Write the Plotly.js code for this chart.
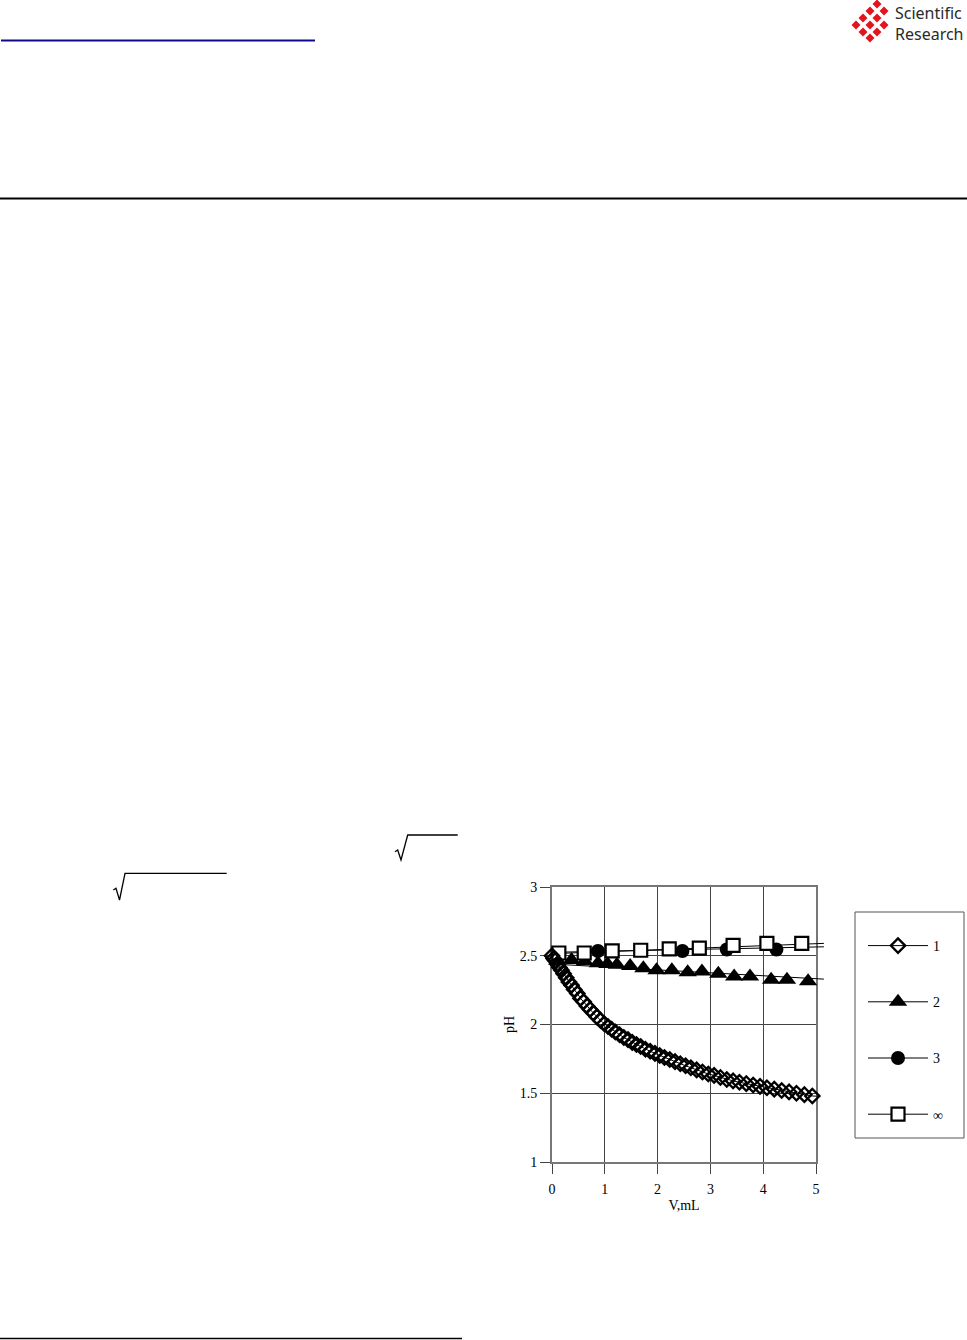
<!DOCTYPE html>
<html><head><meta charset="utf-8">
<script src="https://cdn.plot.ly/plotly-3.0.1.min.js"></script>
<style>html,body{margin:0;padding:0;background:#fff;}#chart{width:967px;height:1340px;}</style>
</head><body><div id="chart"></div>
<script>
// ---------- data ----------
const xTicks = [0, 1, 2, 3, 4, 5];
const xTickLabels = ['0', '1', '2', '3', '4', '5'];
const yTicks = [1, 1.5, 2, 2.5, 3];
const yTickLabels = ['1', '1.5', '2', '2.5', '3'];
const seriesNames = ['1', '2', '3', '\u221E'];

const s1X = [0, 0.03, 0.06, 0.1, 0.14, 0.18, 0.22, 0.27, 0.32, 0.37, 0.42, 0.48, 0.54, 0.6, 0.66, 0.72, 0.78, 0.85, 0.92, 0.99,
  1.06, 1.13, 1.2, 1.28, 1.36, 1.44, 1.52, 1.6, 1.68, 1.77, 1.86, 1.95, 2.04, 2.13, 2.23, 2.33, 2.43, 2.53, 2.63, 2.74,
  2.85, 2.96, 3.07, 3.19, 3.31, 3.43, 3.55, 3.68, 3.81, 3.94, 4.07, 4.21, 4.35, 4.49, 4.63, 4.78, 4.93];
const s1Y = [2.5, 2.48, 2.465, 2.44, 2.415, 2.395, 2.37, 2.34, 2.31, 2.285, 2.255, 2.225, 2.19, 2.165, 2.135, 2.11, 2.085, 2.055, 2.03, 2.005,
  1.985, 1.965, 1.945, 1.925, 1.905, 1.89, 1.87, 1.855, 1.84, 1.82, 1.805, 1.79, 1.775, 1.76, 1.745, 1.73, 1.715, 1.7, 1.685, 1.67,
  1.655, 1.64, 1.63, 1.615, 1.6, 1.59, 1.58, 1.57, 1.56, 1.55, 1.54, 1.53, 1.52, 1.51, 1.5, 1.49, 1.48];

const s2X = [0.1, 0.37, 0.62, 0.87, 1.05, 1.23, 1.48, 1.73, 1.98, 2.27, 2.57, 2.84, 3.15, 3.45, 3.75, 4.15, 4.45, 4.85];
const s2Y = [2.465, 2.47, 2.46, 2.445, 2.44, 2.435, 2.425, 2.41, 2.395, 2.395, 2.38, 2.385, 2.37, 2.35, 2.35, 2.325, 2.325, 2.315];

const s3X = [0.87, 2.47, 3.31, 4.25];
const s3Y = [2.535, 2.535, 2.545, 2.545];

const s4X = [0.13, 0.61, 1.14, 1.68, 2.22, 2.79, 3.43, 4.07, 4.73];
const s4Y = [2.52, 2.52, 2.535, 2.54, 2.55, 2.555, 2.575, 2.59, 2.59];

// fitted lines (they run a little past the frame)
const lineEndX = [0, 5.15];
const line2Y = [2.44, 2.33];
const line3Y = [2.525, 2.565];
const line4Y = [2.515, 2.59];
const line1TailX = [5.08];
const line1TailY = [1.478];

// ---------- geometry ----------
const W = 967, H = 1340;
const fx = p => p / W;
const fy = p => 1 - p / H;
const plotL = 552, plotR = 816, plotT = 887, plotB = 1162;
const xMax = 5, xMaxExt = 5.2;
const pxPerUnit = (plotR - plotL) / xMax;

const black = '#000';
const mk = {
  d: {symbol: 'diamond-open', size: 11, color: black, line: {width: 2.3, color: black}},
  t: {symbol: 'triangle-up', size: 16, color: black, line: {width: 0}},
  c: {symbol: 'circle', size: 14, color: black, line: {width: 0}},
  s: {symbol: 'square', size: 13, color: '#fff', line: {width: 2.2, color: black}}
};
const thin = {color: black, width: 1};
const serif = 'Liberation Serif, Times New Roman, serif';

const traces = [
  // lines (on extended axis so they can run past the frame)
  {x: lineEndX, y: line2Y, xaxis: 'x2', yaxis: 'y2', mode: 'lines', line: thin, showlegend: false, hoverinfo: 'skip'},
  {x: lineEndX, y: line3Y, xaxis: 'x2', yaxis: 'y2', mode: 'lines', line: thin, showlegend: false, hoverinfo: 'skip'},
  {x: lineEndX, y: line4Y, xaxis: 'x2', yaxis: 'y2', mode: 'lines', line: thin, showlegend: false, hoverinfo: 'skip'},
  {x: s1X.concat(line1TailX), y: s1Y.concat(line1TailY), xaxis: 'x2', yaxis: 'y2', mode: 'lines', line: thin, showlegend: false, hoverinfo: 'skip'},
  // markers
  {x: s2X, y: s2Y, xaxis: 'x2', yaxis: 'y2', mode: 'markers', marker: mk.t, cliponaxis: false, showlegend: false, name: seriesNames[1]},
  {x: s3X, y: s3Y, xaxis: 'x2', yaxis: 'y2', mode: 'markers', marker: mk.c, cliponaxis: false, showlegend: false, name: seriesNames[2]},
  {x: s4X, y: s4Y, xaxis: 'x2', yaxis: 'y2', mode: 'markers', marker: mk.s, cliponaxis: false, showlegend: false, name: seriesNames[3]},
  {x: s1X, y: s1Y, xaxis: 'x2', yaxis: 'y2', mode: 'markers', marker: mk.d, cliponaxis: false, showlegend: false, name: seriesNames[0]},
  // legend entries
  {x: [null], y: [null], mode: 'lines+markers', line: thin, marker: mk.d, name: seriesNames[0], legendgroup: 'a'},
  {x: [null], y: [null], mode: 'lines+markers', line: thin, marker: mk.t, name: seriesNames[1], legendgroup: 'b'},
  {x: [null], y: [null], mode: 'lines+markers', line: thin, marker: mk.c, name: seriesNames[2], legendgroup: 'c'},
  {x: [null], y: [null], mode: 'lines+markers', line: thin, marker: mk.s, name: seriesNames[3], legendgroup: 'd'}
];

// ---------- page decorations ----------
const P = (pts) => pts.map((p, i) => (i ? 'L' : 'M') + fx(p[0]).toFixed(5) + ',' + fy(p[1]).toFixed(5)).join(' ');
const shapes = [];
const hline = (x0, x1, y, color, width) => shapes.push({type: 'line', xref: 'paper', yref: 'paper', x0: fx(x0), x1: fx(x1), y0: fy(y), y1: fy(y), line: {color: color, width: width}});
hline(1, 315, 40.5, '#0b0b8e', 2);
hline(0, 967, 198.5, '#000', 2);
hline(0, 462, 1338.5, '#000', 1.5);
shapes.push({type: 'path', xref: 'paper', yref: 'paper', path: P([[395, 851.7], [397.7, 850], [401, 860], [407.7, 835], [457.7, 835]]), line: {color: '#000', width: 1.3}});
shapes.push({type: 'path', xref: 'paper', yref: 'paper', path: P([[113.3, 890], [116, 888.3], [119.5, 900], [125, 873.3], [226.7, 873.3]]), line: {color: '#000', width: 1.3}});
// legend frame
shapes.push({type: 'rect', xref: 'paper', yref: 'paper', x0: fx(855), x1: fx(964), y0: fy(912), y1: fy(1138), line: {color: '#555', width: 1}, fillcolor: 'rgba(0,0,0,0)'});
// logo: cluster of small red diamonds
const logoPts = [[877, 4], [870, 11], [884, 11], [863, 18], [877, 18], [856, 25], [870, 25], [884, 25], [863, 32], [877, 32], [870, 38]];
logoPts.forEach(p => {
  const h = 4.5;
  shapes.push({type: 'path', xref: 'paper', yref: 'paper', path: P([[p[0], p[1] - h], [p[0] + h, p[1]], [p[0], p[1] + h], [p[0] - h, p[1]]]) + ' Z', fillcolor: '#e3141e', line: {width: 0}});
});

const annotations = [
  {text: 'Scientific<br>Research', xref: 'paper', yref: 'paper', x: fx(966), y: fy(23), xanchor: 'right', yanchor: 'middle', align: 'left',
    showarrow: false, font: {family: 'Noto Sans, sans-serif', size: 16, color: '#2a2a2a'}}
];

const axisCommon = {
  ticks: 'outside', ticklen: 10, tickwidth: 1, tickcolor: '#444',
  showgrid: true, gridcolor: '#444', gridwidth: 1,
  showline: true, mirror: true, linecolor: '#777', linewidth: 2,
  zeroline: false, automargin: false, fixedrange: true,
  tickfont: {family: serif, size: 14, color: '#000'}
};

const layout = {
  width: W, height: H,
  margin: {l: 0, r: 0, t: 0, b: 0, pad: 0},
  paper_bgcolor: '#fff', plot_bgcolor: 'rgba(0,0,0,0)',
  font: {family: serif, size: 14, color: '#000'},
  showlegend: true,
  legend: {x: fx(863), y: fy(930), xanchor: 'left', yanchor: 'top', bgcolor: 'rgba(0,0,0,0)', borderwidth: 0,
    itemwidth: 60, tracegroupgap: 35, font: {family: serif, size: 14, color: '#000'}},
  xaxis: Object.assign({}, axisCommon, {domain: [fx(plotL), fx(plotR)], range: [0, xMax], tickvals: xTicks, ticktext: xTickLabels, anchor: 'y',
    ticklabelstandoff: 3, tickfont: {family: serif, size: 14, color: '#000000'},
    title: {text: 'V,mL', standoff: 4, font: {family: serif, size: 14, color: '#000'}}}),
  yaxis: Object.assign({}, axisCommon, {domain: [fy(plotB), fy(plotT)], range: [1, 3], tickvals: yTicks, ticktext: yTickLabels, anchor: 'x',
    title: {text: 'pH', standoff: 2, font: {family: serif, size: 14, color: '#000'}}}),
  xaxis2: {domain: [fx(plotL), fx(plotL + pxPerUnit * xMaxExt)], range: [0, xMaxExt], visible: false, anchor: 'y2', fixedrange: true},
  yaxis2: {domain: [fy(plotB), fy(plotT)], range: [1, 3], visible: false, anchor: 'x2', fixedrange: true},
  shapes: shapes,
  annotations: annotations
};

Plotly.newPlot('chart', traces, layout, {displayModeBar: false, staticPlot: true});
</script></body></html>
